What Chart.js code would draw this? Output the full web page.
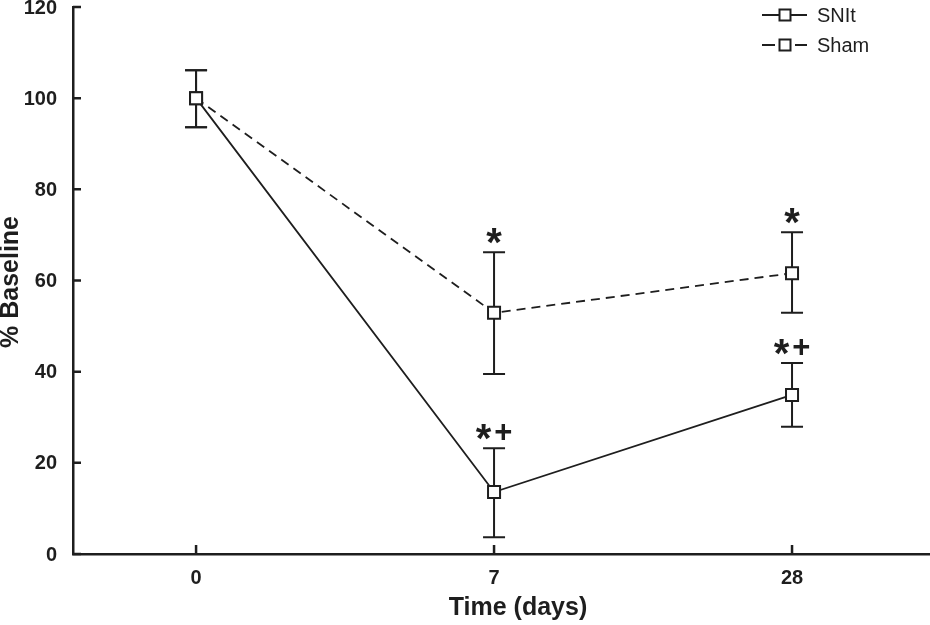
<!DOCTYPE html>
<html>
<head>
<meta charset="utf-8">
<script src="https://cdn.jsdelivr.net/npm/chart.js@4"></script>
<style>
  body { margin: 0; background: #fff; overflow: hidden; }
  #wrap { width: 930px; height: 625px; position: relative; }
</style>
</head>
<body>
<div id="wrap"><canvas id="myChart"></canvas></div>
<script>
// data
const days = ['0', '7', '28'];
const snitMean = [100, 13.6, 34.9];
const snitUpper = [106.1, 23.2, 41.9];
const snitLower = [93.6, 3.7, 27.9];
const shamMean = [100, 52.9, 61.6];
const shamUpper = [106.1, 66.2, 70.6];
const shamLower = [93.6, 39.5, 52.9];
const snitMarks = ['', '*+', '*+'];
const shamMarks = ['', '*', '*'];
const yTicks = [0, 20, 40, 60, 80, 100, 120];

const ink = '#1e1e1e';
const fontFam = '"Liberation Sans", Arial, sans-serif';

function toPoints(arr) {
  return arr.map((v, i) => ({ x: i, y: v }));
}

// error bars + significance marks, drawn through the scales
const errorBars = {
  id: 'errorBars',
  beforeDatasetsDraw(chart) {
    const ctx = chart.ctx;
    const xs = chart.scales.x, ys = chart.scales.y;
    const sets = [[snitUpper, snitLower], [shamUpper, shamLower]];
    ctx.save();
    ctx.strokeStyle = ink;
    ctx.lineWidth = 2;
    sets.forEach(([up, lo]) => {
      up.forEach((u, i) => {
        const x = xs.getPixelForValue(i);
        const yt = ys.getPixelForValue(u);
        const yb = ys.getPixelForValue(lo[i]);
        ctx.beginPath();
        ctx.moveTo(x, yt); ctx.lineTo(x, yb);
        ctx.moveTo(x - 11, yt); ctx.lineTo(x + 11, yt);
        ctx.moveTo(x - 11, yb); ctx.lineTo(x + 11, yb);
        ctx.stroke();
      });
    });
    ctx.restore();
  },
  afterDatasetsDraw(chart) {
    const ctx = chart.ctx;
    const xs = chart.scales.x, ys = chart.scales.y;
    ctx.save();
    ctx.fillStyle = ink;
    ctx.textBaseline = 'alphabetic';
    ctx.textAlign = 'left';
    const gap = 3;
    const drawMark = (txt, x, y) => {
      if (!txt) return;
      const parts = txt.split('').map(c => ({
        c,
        font: c === '*' ? 'bold 40px ' + fontFam : 'bold 31px ' + fontFam,
        dy: c === '*' ? 10 : 0
      }));
      let total = gap * (parts.length - 1);
      parts.forEach(p => { ctx.font = p.font; p.w = ctx.measureText(p.c).width; total += p.w; });
      let cx = x - total / 2;
      parts.forEach(p => {
        ctx.font = p.font;
        ctx.fillText(p.c, cx, y + p.dy);
        cx += p.w + gap;
      });
    };
    snitMarks.forEach((m, i) => drawMark(m, xs.getPixelForValue(i), ys.getPixelForValue(snitUpper[i]) - 6));
    shamMarks.forEach((m, i) => drawMark(m, xs.getPixelForValue(i), ys.getPixelForValue(shamUpper[i]) - 6));
    ctx.restore();
  }
};

// inward tick marks, tick labels, axis titles and legend
const decorations = {
  id: 'decorations',
  afterDraw(chart) {
    const ctx = chart.ctx;
    const xs = chart.scales.x, ys = chart.scales.y;
    const area = chart.chartArea;
    ctx.save();
    ctx.strokeStyle = ink;
    ctx.fillStyle = ink;
    ctx.lineWidth = 2.5;
    ctx.beginPath();
    ys.ticks.forEach(t => {
      const y = ys.getPixelForValue(t.value);
      ctx.moveTo(area.left, y); ctx.lineTo(area.left + 8, y);
    });
    xs.ticks.forEach(t => {
      const x = xs.getPixelForValue(t.value);
      ctx.moveTo(x, area.bottom); ctx.lineTo(x, area.bottom - 9);
    });
    ctx.stroke();

    // tick labels
    ctx.font = 'bold 20px ' + fontFam;
    ctx.textBaseline = 'middle';
    ctx.textAlign = 'right';
    ys.ticks.forEach(t => {
      ctx.fillText(String(t.value), area.left - 16, ys.getPixelForValue(t.value) + 1);
    });
    ctx.textAlign = 'center';
    xs.ticks.forEach(t => {
      ctx.fillText(days[t.value], xs.getPixelForValue(t.value), area.bottom + 24);
    });

    // axis titles
    ctx.font = 'bold 25px ' + fontFam;
    ctx.fillText('Time (days)', 518, 608);
    ctx.save();
    ctx.translate(11, 282);
    ctx.rotate(-Math.PI / 2);
    ctx.fillText('% Baseline', 0, 0);
    ctx.restore();

    // legend
    ctx.lineWidth = 2;
    ctx.font = '20px ' + fontFam;
    ctx.textAlign = 'left';
    chart.data.datasets.forEach((ds, k) => {
      const y = 15 + k * 30;
      ctx.beginPath();
      if (ds.borderDash && ds.borderDash.length) {
        ctx.moveTo(762, y); ctx.lineTo(775, y);
        ctx.moveTo(795, y); ctx.lineTo(807, y);
      } else {
        ctx.moveTo(762, y); ctx.lineTo(807, y);
      }
      ctx.stroke();
      ctx.fillStyle = '#fff';
      ctx.fillRect(779.5, y - 5.5, 11, 11);
      ctx.strokeRect(779.5, y - 5.5, 11, 11);
      ctx.fillStyle = ink;
      ctx.fillText(ds.label, 817, y + 1);
    });
    ctx.restore();
  }
};

const canvas = document.getElementById('myChart').getContext('2d');
const myChart = new Chart(canvas, {
  type: 'line',
  data: {
    datasets: [
      {
        label: 'SNIt',
        data: toPoints(snitMean),
        borderColor: ink,
        borderWidth: 1.8,
        pointStyle: 'rect',
        pointRadius: 8.5,
        pointBackgroundColor: '#fff',
        pointBorderColor: ink,
        pointBorderWidth: 2,
      },
      {
        label: 'Sham',
        data: toPoints(shamMean),
        borderColor: ink,
        borderWidth: 1.8,
        borderDash: [9, 6],
        pointStyle: 'rect',
        pointRadius: 8.5,
        pointBackgroundColor: '#fff',
        pointBorderColor: ink,
        pointBorderWidth: 2,
      },
    ],
  },
  options: {
    responsive: true,
    maintainAspectRatio: false,
    animation: false,
    layout: { autoPadding: false, padding: { top: 7, right: 0, left: 0, bottom: 0 } },
    plugins: { legend: { display: false }, tooltip: { enabled: false } },
    scales: {
      x: {
        type: 'linear',
        min: -0.413,
        max: 2.463,
        afterBuildTicks: (scale) => { scale.ticks = days.map((d, i) => ({ value: i })); },
        afterFit: (scale) => { scale.height = 71; },
        grid: { display: false, drawTicks: false },
        border: { display: true, color: ink, width: 2.5 },
        ticks: { display: false },
      },
      y: {
        min: 0,
        max: 120,
        afterBuildTicks: (scale) => { scale.ticks = yTicks.map(v => ({ value: v })); },
        afterFit: (scale) => { scale.width = 73; },
        grid: { display: false, drawTicks: false },
        border: { display: true, color: ink, width: 2.5 },
        ticks: { display: false },
      },
    },
  },
  plugins: [errorBars, decorations],
});
</script>
</body>
</html>
